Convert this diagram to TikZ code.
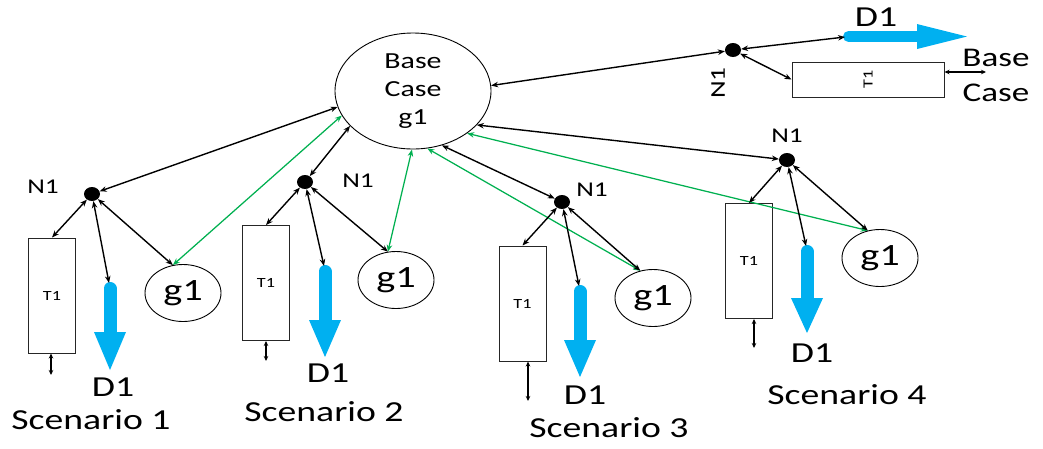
\documentclass[tikz,border=0pt]{standalone}
\usepackage{fontspec}
\newfontfamily\cf[FakeStretch=1.3]{Carlito}
\usetikzlibrary{shapes.geometric,arrows.meta}
\definecolor{dblue}{HTML}{00B0F0}
\definecolor{lgreen}{HTML}{00B050}
\begin{document}
\begin{tikzpicture}[x=1pt,y=-1pt,
  dot/.style={ellipse, fill=black, minimum width=16pt, minimum height=14pt, inner sep=0pt},
  gbub/.style={ellipse, draw, line width=0.9pt, minimum width=76pt, minimum height=57pt, inner sep=0pt, font=\cf\fontsize{31}{31}\selectfont},
  tbox/.style={draw=black!85, line width=1pt, inner sep=0pt, minimum width=47pt, minimum height=115pt, font=\cf\fontsize{14}{14}\selectfont},
  conn/.style={{Stealth[length=7pt,width=5.5pt]}-{Stealth[length=7pt,width=5.5pt]}, line width=1.4pt},
  sconn/.style={{Stealth[length=5pt,width=4.5pt]}-{Stealth[length=5pt,width=4.5pt]}, line width=1.2pt},
  gconn/.style={conn, draw=lgreen, line width=1.25pt},
  nlab/.style={font=\cf\fontsize{21}{21}\selectfont},
  dlab/.style={font=\cf\fontsize{29}{29}\selectfont},
  slab/.style={font=\cf\fontsize{29}{29}\selectfont},
  bshaft/.style={draw=dblue, line width=13pt, line cap=round},
  bhead/.style={fill=dblue},
]
\useasboundingbox (0,0) rectangle (1043,448);

% Base case
\node[ellipse, draw, line width=0.9pt, minimum width=156pt, minimum height=116pt, inner sep=0pt,
      align=center, font=\cf\fontsize{23}{28}\selectfont] (base) at (413,91) {Base\\Case\\g1};

% ---------- Scenario 1
\node[dot] (n1) at (92,194) {};
\node[nlab] (n1l) at (43,187) {N1};
\node[tbox] (b1) at (52,295.5) {T1};
\node[gbub] (g1) at (183,293) {g1};
\coordinate (d1) at (109,283);
\coordinate (s1) at (51,375);
\draw[bshaft] (110,288.5) -- (110,334);
\fill[bhead] (94,332) -- (126,332) -- (110,370) -- cycle;
\node[dlab] (d1l) at (113,387) {D1};
\node[slab] (sc1) at (91,420) {Scenario 1};
\draw[conn] (base.192) -- (n1);
\draw[gconn] (base.199) -- (g1.110);
\draw[conn] (n1) -- (b1.north);
\draw[conn] (n1) -- (d1);
\draw[conn] (n1) -- (g1.110);
\draw[sconn] (b1.south -| s1) -- (s1);

% ---------- Scenario 2
\node[dot] (n2) at (305,182) {};
\node[nlab] (n2l) at (358,181) {N1};
\node[tbox] (b2) at (266,283) {T1};
\node[gbub] (g2) at (396,280) {g1};
\coordinate (d2) at (324,266);
\coordinate (s2) at (266,361);
\draw[bshaft] (325,271.5) -- (325,322);
\fill[bhead] (309,320) -- (341,320) -- (325,357) -- cycle;
\node[dlab] (d2l) at (328,373) {D1};
\node[slab] (sc2) at (324,412) {Scenario 2};
\draw[conn] (base.209) -- (n2);
\draw[gconn] (base.269) -- (g2.106);
\draw[conn] (n2) -- (b2.north);
\draw[conn] (n2) -- (d2);
\draw[conn] (n2) -- (g2.106);
\draw[sconn] (b2.south -| s2) -- (s2);

% ---------- Scenario 3
\node[dot] (n3) at (562,202) {};
\node[nlab] (n3l) at (592,190) {N1};
\node[tbox] (b3) at (522.5,303.5) {T1};
\node[gbub] (g3) at (653,298) {g1};
\coordinate (d3) at (579,286);
\coordinate (s3) at (528,401);
\draw[bshaft] (580,291.5) -- (580,342);
\fill[bhead] (564,340) -- (596,340) -- (580,377) -- cycle;
\node[dlab] (d3l) at (585,395) {D1};
\node[slab] (sc3) at (609,428) {Scenario 3};
\draw[conn] (base.298) -- (n3);
\draw[gconn] (base.284) -- (g3.115);
\draw[conn] (n3) -- (b3.north);
\draw[conn] (n3) -- (d3);
\draw[conn] (n3) -- (g3.115);
\draw[sconn] (b3.south -| s3) -- (s3);

% ---------- Scenario 4
\node[dot] (n4) at (787,160) {};
\node[nlab] (n4l) at (787,136) {N1};
\node[tbox] (b4) at (749,261) {T1};
\node[gbub] (g4) at (880,258) {g1};
\coordinate (d4) at (806,246);
\coordinate (s4) at (754,348);
\draw[bshaft] (807,251.5) -- (807,300);
\fill[bhead] (791,298) -- (823,298) -- (807,333) -- cycle;
\node[dlab] (d4l) at (812,353) {D1};
\node[slab] (sc4) at (847,395) {Scenario 4};
\draw[conn] (base.332) -- (n4);
\draw[gconn] (base.322) -- (g4.114);
\draw[conn] (n4) -- (b4.north);
\draw[conn] (n4) -- (d4);
\draw[conn] (n4) -- (g4.114);
\draw[sconn] (b4.south -| s4) -- (s4);

% ---------- Base case (top right)
\node[dot] (n5) at (733,50) {};
\node[nlab, rotate=90] (n5l) at (718,83) {N1};
\node[tbox, minimum width=152pt, minimum height=35pt] (b5) at (868,79.5) {\rotatebox{90}{T1}};
\coordinate (d5) at (845,37);
\coordinate (s5) at (986,72);
\draw[draw=dblue, line width=11pt, line cap=round] (848.5,36.5) -- (919,36.5);
\fill[bhead] (917,24) -- (917,49) -- (967,36.5) -- cycle;
\node[dlab] (d5l) at (876,17) {D1};
\node[align=center, font=\cf\fontsize{27}{35}\selectfont] (bcl) at (996,75) {Base\\Case};
\draw[conn] (base.4) -- (n5);
\draw[conn] (n5) -- (d5);
\draw[conn] (n5) -- (b5.west);
\draw[sconn] (b5.east |- s5) -- (s5);
\end{tikzpicture}
\end{document}
